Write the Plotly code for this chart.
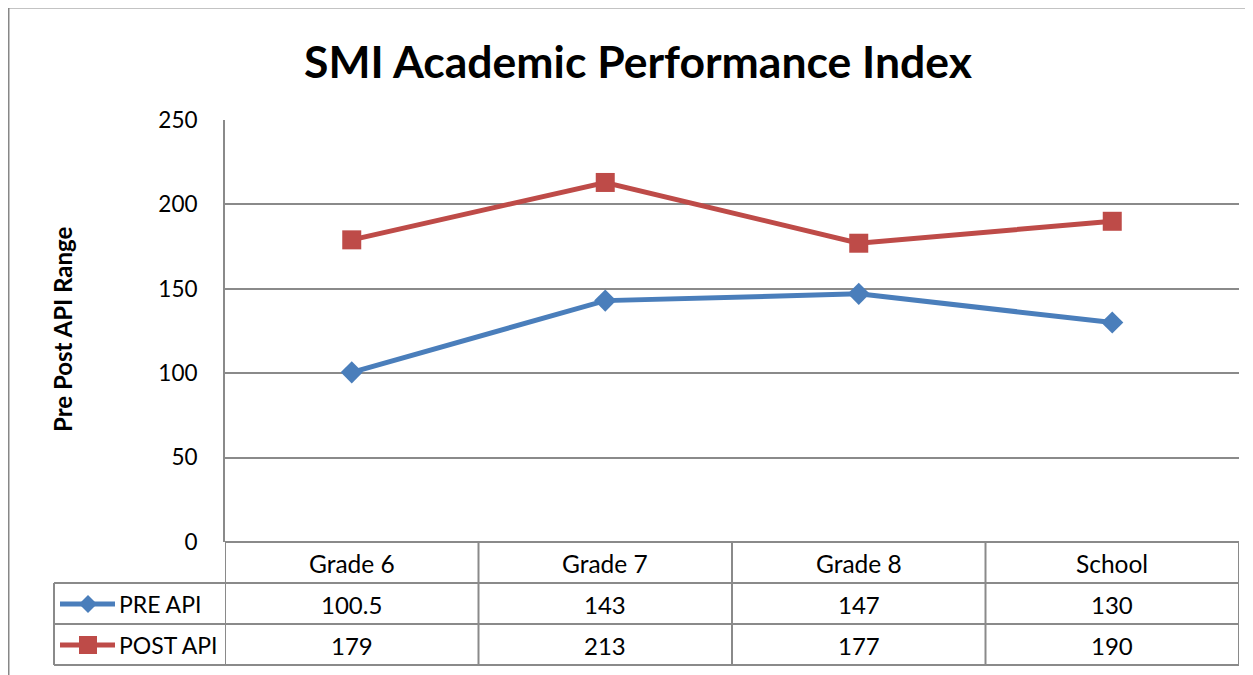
import plotly.graph_objects as go

categories = ["Grade 6", "Grade 7", "Grade 8", "School"]
pre_api = [100.5, 143, 147, 130]
post_api = [179, 213, 177, 190]
series_names = ["PRE API", "POST API"]
y_ticks = [0, 50, 100, 150, 200, 250]

# page has an 8px body margin; size the figure to fit the window exactly
OFF = 8
W, H = 1253 - OFF, 675 - OFF
BLUE = "#4A7EBB"
RED = "#BE4B48"
GRID = "#8A8A8A"
FONT = "Lato"

def px(x):
    return (x - OFF) / W

def py(y):
    return 1 - (y - OFF) / H

fig = go.Figure()
fig.add_trace(go.Scatter(x=categories, y=pre_api, name=series_names[0], mode="lines+markers",
                         line=dict(color=BLUE, width=5),
                         marker=dict(symbol="diamond", size=17, color=BLUE)))
fig.add_trace(go.Scatter(x=categories, y=post_api, name=series_names[1], mode="lines+markers",
                         line=dict(color=RED, width=5),
                         marker=dict(symbol="square", size=19, color=RED)))

plot_l, plot_r, plot_t, plot_b = 225, 1239, 120, 542
row_lines = [542, 583, 624, 665]
header_y = 563
row_y = [604, 645]

shapes = []
# outer chart border (left and top)
shapes.append(dict(type="line", xref="paper", yref="paper", x0=px(8.5), x1=px(1270), y0=py(7.5), y1=py(7.5),
                   line=dict(color="#878787", width=2)))
shapes.append(dict(type="line", xref="paper", yref="paper", x0=px(8.5), x1=px(8.5), y0=py(7.5), y1=py(700),
                   line=dict(color="#878787", width=2)))
# table horizontal lines
for i, yy in enumerate(row_lines):
    x0 = plot_l if i == 0 else 54
    shapes.append(dict(type="line", xref="paper", yref="paper", x0=px(x0), x1=px(plot_r), y0=py(yy), y1=py(yy),
                       line=dict(color=GRID, width=2)))
# table vertical lines
for i in range(len(categories) + 1):
    shapes.append(dict(type="line", xref="x", yref="paper", x0=i - 0.5, x1=i - 0.5,
                       y0=py(row_lines[0]), y1=py(row_lines[-1]), line=dict(color=GRID, width=2)))
shapes.append(dict(type="line", xref="paper", yref="paper", x0=px(54), x1=px(54),
                   y0=py(row_lines[1]), y1=py(row_lines[-1]), line=dict(color=GRID, width=2)))
# legend keys in table
for yy, col, sym in [(row_y[0], BLUE, "diamond"), (row_y[1], RED, "square")]:
    shapes.append(dict(type="line", xref="paper", yref="paper", x0=px(60), x1=px(115), y0=py(yy), y1=py(yy),
                       line=dict(color=col, width=5)))
    if sym == "square":
        shapes.append(dict(type="rect", xref="paper", yref="paper", x0=px(79), x1=px(97), y0=py(yy - 9), y1=py(yy + 9),
                           fillcolor=col, line=dict(width=0)))
    else:
        cx = 88
        path = (f"M {px(cx)} {py(yy - 9)} L {px(cx + 9)} {py(yy)} L {px(cx)} {py(yy + 9)} "
                f"L {px(cx - 9)} {py(yy)} Z")
        shapes.append(dict(type="path", xref="paper", yref="paper", path=path,
                           fillcolor=col, line=dict(width=0)))

annotations = []
annotations.append(dict(text="<b>SMI Academic Performance Index</b>", xref="paper", yref="paper",
                        x=px(638), y=py(60), showarrow=False, xanchor="center", yanchor="middle",
                        font=dict(family=FONT, size=44.5, color="#000000")))
annotations.append(dict(text="<b>Pre Post API Range</b>", xref="paper", yref="paper",
                        x=px(62), y=py(330), showarrow=False, textangle=-90, xanchor="center", yanchor="middle",
                        font=dict(family=FONT, size=24, color="#000000")))
for c in categories:
    annotations.append(dict(text=c, xref="x", yref="paper", x=c, y=py(header_y), showarrow=False,
                            xanchor="center", yanchor="middle", font=dict(family=FONT, size=24.5, color="#000000")))
for vals, yy in [(pre_api, row_y[0]), (post_api, row_y[1])]:
    for c, v in zip(categories, vals):
        annotations.append(dict(text=f"{v:g}", xref="x", yref="paper", x=c, y=py(yy), showarrow=False,
                                xanchor="center", yanchor="middle",
                                font=dict(family=FONT, size=24, color="#000000")))
for name, yy in zip(series_names, row_y):
    annotations.append(dict(text=name, xref="paper", yref="paper", x=px(117), y=py(yy), showarrow=False,
                            xanchor="left", yanchor="middle", font=dict(family=FONT, size=23, color="#000000")))

fig.update_layout(
    width=W, height=H,
    margin=dict(l=0, r=0, t=0, b=0, pad=0, autoexpand=False),
    paper_bgcolor="white", plot_bgcolor="white",
    showlegend=False,
    shapes=shapes,
    annotations=annotations,
    xaxis=dict(domain=[px(plot_l), px(plot_r)], range=[-0.5, len(categories) - 0.5], automargin=False,
               showticklabels=False, showgrid=False, zeroline=False, showline=False, ticks=""),
    yaxis=dict(domain=[py(plot_b), py(plot_t)], range=[0, 250], tickvals=y_ticks, automargin=False,
               showgrid=True, gridcolor=GRID, gridwidth=1.5, zeroline=False,
               showline=True, linecolor=GRID, linewidth=2, ticks="",
               ticklabelstandoff=21,
               tickfont=dict(family=FONT, size=22.5, color="#000000")),
)

fig.write_html("out.html")
